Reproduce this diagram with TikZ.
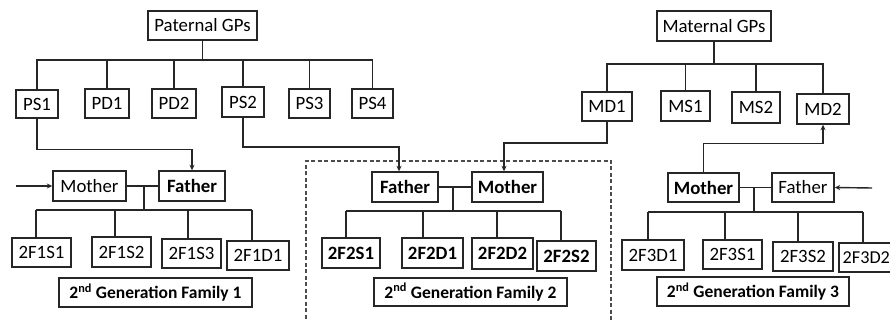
\documentclass[tikz,border=0pt]{standalone}
\usepackage{fontspec}
\setmainfont{Carlito}
\usetikzlibrary{arrows.meta}
\tikzset{
  box/.style={draw=black!85, line width=1.4pt, inner sep=0pt, font=\fontsize{18.8}{21}\selectfont},
  bbox/.style={box, font=\fontsize{18.8}{21}\selectfont\bfseries},
  lbox/.style={box, font=\fontsize{17.5}{20}\selectfont\bfseries},
  wire/.style={draw=black!85, line width=1.4pt},
  arr/.style={wire, -{Stealth[length=5.5pt,width=5pt]}},
  dashbox/.style={draw=black!70, line width=1.3pt, dash pattern=on 4pt off 2.5pt}
}
\begin{document}
\begin{tikzpicture}[x=1pt,y=-1pt]
\useasboundingbox (0,0) rectangle (890,320);
\clip (0,0) rectangle (890,320);
% paternal side
\node[box, minimum width=109pt, minimum height=29pt] (pgp) at (202.5,25.5) {Paternal GPs};
\node[box, minimum width=42pt, minimum height=28pt] (ps1) at (37,104) {PS1};
\node[box, minimum width=44pt, minimum height=29pt] (pd1) at (107,103.5) {PD1};
\node[box, minimum width=44pt, minimum height=29pt] (pd2) at (174,103.5) {PD2};
\node[box, minimum width=42pt, minimum height=30pt] (ps2) at (243,102) {PS2};
\node[box, minimum width=41pt, minimum height=29pt] (ps3) at (309.5,103.5) {PS3};
\node[box, minimum width=41pt, minimum height=29pt] (ps4) at (372.5,103.5) {PS4};
\coordinate (pj) at (202.5,60);
\draw[wire] (pgp.south) -- (pj);
\draw[wire] (ps1.north) |- (pj) -| (ps4.north);
\draw[wire] (pd1.north) -- (pd1.north |- pj);
\draw[wire] (pd2.north) -- (pd2.north |- pj);
\draw[wire] (ps2.north) -- (ps2.north |- pj);
\draw[wire] (ps3.north) -- (ps3.north |- pj);
% maternal side
\node[box, minimum width=114pt, minimum height=30pt] (mgp) at (714,26) {Maternal GPs};
\node[box, minimum width=50pt, minimum height=29pt] (md1) at (607,106.5) {MD1};
\node[box, minimum width=49pt, minimum height=30pt] (ms1) at (685.5,106) {MS1};
\node[box, minimum width=48pt, minimum height=31pt] (ms2) at (756,107.5) {MS2};
\node[box, minimum width=52pt, minimum height=30pt] (md2) at (823,109) {MD2};
\coordinate (mj) at (714,64);
\draw[wire] (mgp.south) -- (mj);
\draw[wire] (md1.north) |- (mj) -| (md2.north);
\draw[wire] (ms1.north) -- (ms1.north |- mj);
\draw[wire] (ms2.north) -- (ms2.north |- mj);
% dashed frame
\draw[dashbox] (306,325) -- (306,161) -- (611,161) -- (611,325);
% family 1
\node[box, minimum width=73pt, minimum height=30pt] (mo1) at (89.5,186) {Mother};
\node[bbox, minimum width=66pt, minimum height=30pt] (fa1) at (192,186) {Father};
\node[box, minimum width=59pt, minimum height=29pt] (c11) at (41.5,252.5) {2F1S1};
\node[box, minimum width=59pt, minimum height=30pt] (c12) at (121.5,252) {2F1S2};
\node[box, minimum width=59pt, minimum height=29pt] (c13) at (191.5,253.5) {2F1S3};
\node[box, minimum width=62pt, minimum height=29pt] (c14) at (258,255.5) {2F1D1};
\node[lbox, minimum width=193pt, minimum height=29pt] (lab1) at (155.5,292.5) {2\textsuperscript{nd} Generation Family 1};
\coordinate (in1) at (16,186);
\draw[arr] (in1) -- (mo1.west);
\draw[wire] (mo1.east) -- (fa1.west);
\coordinate (j1) at (144,186);
\coordinate (b1) at (144,210);
\draw[wire] (j1) -- (b1);
\draw[wire] (36,210) -- (252,210);
\draw[wire] (36,210) -- (36,210 |- c11.north);
\draw[wire] (115,210) -- (115,210 |- c12.north);
\draw[wire] (188,210) -- (188,210 |- c13.north);
\draw[wire] (252,210) -- (252,210 |- c14.north);
\draw[arr] (ps1.south) -- ++(0,31) -| (fa1.north);
% family 2
\node[bbox, minimum width=66pt, minimum height=30pt] (fa2) at (405,187) {Father};
\node[bbox, minimum width=71pt, minimum height=30pt] (mo2) at (507.5,187) {Mother};
\node[bbox, minimum width=58pt, minimum height=30pt] (c21) at (351,253) {2F2S1};
\node[bbox, minimum width=61pt, minimum height=30pt] (c22) at (432.5,253) {2F2D1};
\node[bbox, minimum width=61pt, minimum height=31pt] (c23) at (502.5,253.5) {2F2D2};
\node[bbox, minimum width=59pt, minimum height=30pt] (c24) at (566.5,256) {2F2S2};
\node[lbox, minimum width=193pt, minimum height=28pt] (lab2) at (470.5,292) {2\textsuperscript{nd} Generation Family 2};
\draw[wire] (fa2.east) -- (mo2.west);
\draw[wire] (453,187) -- (453,211);
\draw[wire] (346,211) -- (561,211);
\draw[wire] (346,211) -- (346,211 |- c21.north);
\draw[wire] (423,211) -- (423,211 |- c22.north);
\draw[wire] (497,211) -- (497,211 |- c23.north);
\draw[wire] (561,211) -- (561,211 |- c24.north);
\draw[arr] (ps2.south) |- (399,147) -- (399,147 |- fa2.north);
\draw[arr] (md1.south) |- (504,143) -- (504,143 |- mo2.north);
% family 3
\node[bbox, minimum width=71pt, minimum height=29pt] (mo3) at (703.5,187.5) {Mother};
\node[box, minimum width=62pt, minimum height=29pt] (fa3) at (803,187.5) {Father};
\node[box, minimum width=62pt, minimum height=30pt] (c31) at (653,255) {2F3D1};
\node[box, minimum width=59pt, minimum height=29pt] (c32) at (732.5,254.5) {2F3S1};
\node[box, minimum width=60pt, minimum height=29pt] (c33) at (803,256.5) {2F3S2};
% last child: box runs off the right edge, as in the reference
\draw[wire] (896,243) -- (839,243) -- (839,272) -- (896,272);
\node[anchor=west, inner sep=0pt, font=\fontsize{18.2}{21}\selectfont] (c34) at (842.5,257.5) {2F3D2};
\coordinate (c34top) at (863,243);
\node[lbox, minimum width=192pt, minimum height=29pt] (lab3) at (753,291.5) {2\textsuperscript{nd} Generation Family 3};
\coordinate (in3) at (872,188);
\draw[arr] (in3) -- (fa3.east);
\draw[wire] (mo3.east) -- (fa3.west);
\draw[wire] (754,188) -- (754,212);
\draw[wire] (648,212) -- (863,212);
\draw[wire] (648,212) -- (648,212 |- c31.north);
\draw[wire] (725,212) -- (725,212 |- c32.north);
\draw[wire] (798,212) -- (798,212 |- c33.north);
\draw[wire] (863,212) -- (c34top);
\draw[arr] (mo3.north) -- ++(0,-29) -| (md2.south);
\end{tikzpicture}
\end{document}
